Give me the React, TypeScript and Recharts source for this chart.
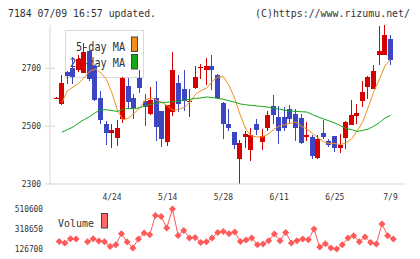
import React from "react";
import { ComposedChart, Bar, Line, XAxis, YAxis } from "recharts";

const dates = [
  "4/10","4/11","4/12","4/15","4/16","4/17","4/18","4/19","4/22","4/23",
  "4/24","4/25","4/26","4/30","5/1","5/7","5/8","5/9","5/10","5/13",
  "5/14","5/15","5/16","5/17","5/20","5/21","5/22","5/23","5/24","5/27",
  "5/28","5/29","5/30","5/31","6/3","6/4","6/5","6/6","6/7","6/10",
  "6/11","6/12","6/13","6/14","6/17","6/18","6/19","6/20","6/21","6/24",
  "6/25","6/26","6/27","6/28","7/1","7/2","7/3","7/4","7/5","7/8","7/9",
];

const opens = [
  2598,2577,2687,2702,2696,2685,2759,2708,2597,2506,
  2477,2460,2525,2639,2597,2666,2587,2542,2599,2551,
  2447,2549,2649,2627,2585,2633,2700,2695,2709,2678,
  2580,2508,2479,2387,2463,2418,2508,2447,2493,2569,
  2531,2531,2558,2542,2528,2462,2461,2390,2476,2449,
  2465,2424,2458,2505,2535,2588,2634,2629,2747,2747,2803,
];
const closes = [
  2599,2649,2672,2670,2733,2757,2662,2592,2523,2477,
  2487,2495,2666,2585,2562,2633,2565,2590,2498,2456,
  2572,2693,2578,2586,2588,2671,2703,2709,2695,2597,
  2508,2493,2435,2441,2472,2470,2487,2465,2537,2537,
  2485,2493,2525,2493,2442,2470,2398,2456,2461,2435,
  2424,2435,2516,2537,2546,2618,2670,2690,2759,2814,2728,
];
const highs = [
  2600,2676,2690,2739,2745,2788,2762,2710,2620,2517,
  2508,2523,2670,2666,2611,2693,2612,2635,2657,2553,
  2575,2757,2676,2693,2628,2708,2716,2736,2747,2680,
  2582,2560,2481,2452,2484,2493,2525,2491,2554,2609,
  2569,2566,2572,2558,2543,2514,2468,2470,2521,2454,
  2467,2472,2518,2590,2576,2658,2673,2713,2847,2849,2817,
];
const lows = [
  2597,2572,2645,2647,2687,2683,2655,2586,2508,2435,
  2424,2431,2510,2560,2525,2616,2500,2540,2450,2428,
  2433,2535,2549,2551,2532,2630,2664,2643,2624,2595,
  2454,2482,2421,2300,2424,2378,2468,2416,2485,2508,
  2439,2482,2508,2450,2440,2449,2385,2385,2454,2428,
  2410,2408,2421,2505,2508,2566,2595,2627,2710,2745,2710,
];
const ma5 = [
  null,2582,2622,2635,2648,2668,2690,2698,2685,2662,
  2615,2553,2522,2528,2545,2563,2591,2599,2590,2582,
  2570,2555,2558,2565,2584,2610,2623,2632,2655,2670,
  2671,2642,2597,2540,2490,2466,2463,2463,2472,2488,
  2500,2505,2510,2514,2500,2490,2475,2460,2446,2440,
  2440,2436,2443,2456,2483,2515,2565,2620,2662,2708,2731,
];
const ma20 = [
  null,2479,2488,2497,2511,2523,2533,2547,2556,2557,
  2554,2551,2558,2562,2560,2564,2570,2576,2580,2582,
  2583,2585,2587,2590,2593,2596,2598,2601,2599,2596,
  2593,2588,2583,2577,2574,2572,2570,2568,2566,2563,
  2559,2555,2553,2551,2550,2549,2540,2532,2525,2518,
  2511,2502,2492,2488,2482,2485,2490,2500,2512,2528,2537,
];
const volumes = [
  null,199600,184300,225500,222700,null,196800,225500,203500,196800,
  151700,168000,273500,193900,136300,222700,280300,263900,449200,439600,
  328200,510600,257200,305200,232300,238000,190000,196800,232300,286000,
  295600,273500,289900,199600,213100,232300,168000,174700,206400,270700,
  206400,286000,184300,206400,222700,216000,318650,145900,177600,136300,
  126700,168000,232300,254400,196800,241900,190000,174700,366600,254400,222700,
];

const xTickLabels = ["4/24", "5/14", "5/28", "6/11", "6/25", "7/9"];
const priceTicks = [2300, 2500, 2700];
const volumeTicks = [126700, 318650, 510600];
const gridSteps = [0, 1, 2, 3, 4, 5, 6, 7, 8, 9, 10, 11];

const data = dates.map((d, i) => ({
  date: d,
  open: opens[i],
  close: closes[i],
  high: highs[i],
  low: lows[i],
  ma5: ma5[i],
  ma20: ma20[i],
  volume: volumes[i],
}));

const RED = "#d60000";
const BLUE = "#3c46c2";
const ORANGE = "#f0901e";
const GREEN = "#14a814";
const VOL = "#ff5a5a";
const AXIS = "#d9d9d9";
const TEXT = "#333";
const MONO = "'DejaVu Sans Mono', 'Liberation Mono', monospace";
const X_PAD = { left: 3.5, right: 12.7 };

const Candle = (props: any) => {
  const { x, y, width, height, payload } = props;
  if (x == null || y == null) return null;
  const top = Math.min(y, y + height);
  const h = Math.abs(height);
  const { open, close, high, low } = payload;
  const span = high - low || 1;
  const py = (v: number) => top + ((high - v) / span) * h;
  const color = close >= open ? RED : BLUE;
  const cx = x + width / 2;
  const bx = Math.round(cx - 2.5);
  const bTop = py(Math.max(open, close));
  const bBot = py(Math.min(open, close));
  return (
    <g shapeRendering="crispEdges">
      <rect x={bx + 2} y={top} width={1} height={Math.max(h, 1)} fill={color} />
      <rect x={bx} y={bTop} width={5} height={Math.max(bBot - bTop, 1)} fill={color} />
    </g>
  );
};

const Diamond = (props: any) => {
  const { cx, cy, payload } = props;
  if (cx == null || cy == null || payload.volume == null) return null;
  return (
    <polygon
      points={`${cx},${cy - 3.5} ${cx + 3.5},${cy} ${cx},${cy + 3.5} ${cx - 3.5},${cy}`}
      fill={VOL}
    />
  );
};

const PriceTick = (props: any) => {
  const { y, payload } = props;
  const s = String(payload.value);
  return (
    <g>
      <line x1={45} x2={55} y1={y} y2={y} stroke={AXIS} />
      <text x={41} y={y + 3} textAnchor="end" fontFamily={MONO} fontSize={8} fill={TEXT}
        textLength={s.length * 4.8} lengthAdjust="spacingAndGlyphs">{s}</text>
    </g>
  );
};

const VolumeTick = (props: any) => {
  const { y, payload } = props;
  const s = String(payload.value);
  return (
    <text x={43} y={y + 3} textAnchor="end" fontFamily={MONO} fontSize={8} fill={TEXT}
      textLength={s.length * 4.7} lengthAdjust="spacingAndGlyphs">{s}</text>
  );
};

const DateTick = (props: any) => {
  const { x, payload } = props;
  const s = String(payload.value);
  return (
    <text x={x} y={200} textAnchor="middle" fontFamily={MONO} fontSize={8} fill={TEXT}
      textLength={s.length * 4.8} lengthAdjust="spacingAndGlyphs">{s}</text>
  );
};

const GridTick = (props: any) => {
  const { x } = props;
  return <line x1={x} x2={x} y1={180} y2={188} stroke={AXIS} />;
};

export default function App() {
  return (
    <div style={{ position: "fixed", left: 0, top: 0, width: 420, height: 259, background: "#fff", overflow: "hidden" }}>
      <svg width={420} height={259} style={{ position: "absolute", left: 0, top: 0 }}>
        <text x={8} y={16.5} fontFamily={MONO} fontSize={10.5} fill={TEXT}
          textLength={148} lengthAdjust="spacingAndGlyphs">7184 07/09 16:57 updated.</text>
        <text x={255} y={16.5} fontFamily={MONO} fontSize={10.5} fill={TEXT}
          textLength={155} lengthAdjust="spacingAndGlyphs">(C)https://www.rizumu.net/</text>
        <rect x={65.5} y={30.5} width={78} height={47} fill="#fff" stroke={AXIS} />
        <text x={125} y={50.5} textAnchor="end" fontFamily={MONO} fontSize={12} fill={TEXT}
          textLength={49} lengthAdjust="spacingAndGlyphs">5-day MA</text>
        <text x={125} y={67} textAnchor="end" fontFamily={MONO} fontSize={12} fill={TEXT}
          textLength={55} lengthAdjust="spacingAndGlyphs">20-day MA</text>
        <rect x={131.5} y={37} width={6} height={14.5} fill={ORANGE} stroke="#444" />
        <rect x={131.5} y={54.5} width={6} height={14.5} fill={GREEN} stroke="#444" />
        <text x={58} y={226.5} fontFamily={MONO} fontSize={11} fill={TEXT}
          textLength={36} lengthAdjust="spacingAndGlyphs">Volume</text>
        <rect x={101.5} y={213.5} width={6} height={14.5} fill="#ff6666" stroke="#444" />
      </svg>

      <div style={{ position: "absolute", left: 0, top: 0 }}>
        <ComposedChart width={420} height={210} data={data} margin={{ top: 25, right: 14, bottom: 0, left: 0 }}>
          <XAxis dataKey="date" height={26} padding={X_PAD} ticks={xTickLabels} interval={0}
            axisLine={{ stroke: AXIS }} tickLine={false} tick={<DateTick />} />
          <XAxis xAxisId="g" type="number" domain={[0, 11]} ticks={gridSteps} interval={0} height={0}
            axisLine={false} tickLine={false} tick={<GridTick />} />
          <YAxis width={50} domain={[2300, 2850]} ticks={priceTicks} interval={0} allowDataOverflow
            axisLine={{ stroke: AXIS }} tickLine={false} tick={<PriceTick />} />
          <Line dataKey="ma5" stroke={ORANGE} strokeWidth={1} dot={false} isAnimationActive={false} />
          <Line dataKey="ma20" stroke={GREEN} strokeWidth={1} dot={false} isAnimationActive={false} />
          <Bar dataKey={(d: any) => [d.low, d.high]} barSize={5} shape={<Candle />} isAnimationActive={false} />
        </ComposedChart>
      </div>

      <div style={{ position: "absolute", left: 0, top: 0 }}>
        <ComposedChart width={420} height={259} data={data} margin={{ top: 209, right: 14, bottom: 10, left: 0 }}>
          <XAxis dataKey="date" hide padding={X_PAD} />
          <YAxis width={50} domain={[126700, 510600]} ticks={volumeTicks} interval={0}
            axisLine={false} tickLine={false} tick={<VolumeTick />} />
          <Line dataKey="volume" stroke={VOL} strokeWidth={1} dot={<Diamond />} isAnimationActive={false} />
        </ComposedChart>
      </div>
    </div>
  );
}
